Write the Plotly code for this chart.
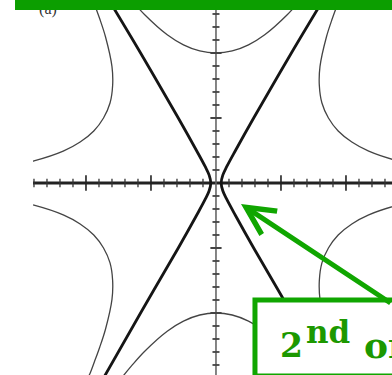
import plotly.graph_objects as go

# curve samples (1 unit = one major tick)
top_x = [-1.65, -1.55, -1.45, -1.3, -1.1, -0.75, -0.5, -0.25, 0, 0.25, 0.5, 0.75, 1.1, 1.3, 1.45, 1.55, 1.65]
top_y = [3.26, 3.125, 2.996, 2.814, 2.592, 2.28, 2.125, 2.031, 2.0, 2.031, 2.125, 2.28, 2.592, 2.814, 2.996, 3.125, 3.26]
bot_y = [-3.26, -3.125, -2.996, -2.814, -2.592, -2.28, -2.125, -2.031, -2.0, -2.031, -2.125, -2.28, -2.592, -2.814, -2.996, -3.125, -3.26]

left_x = [-3.65, -3.48, -3.32, -3.09, -2.80, -2.35, -2.09, -1.88, -1.73, -1.63, -1.59, -1.60, -1.70, -1.79, -1.87, -1.93, -2.0]
right_x = [3.65, 3.48, 3.32, 3.09, 2.80, 2.35, 2.09, 1.88, 1.73, 1.63, 1.59, 1.60, 1.70, 1.79, 1.87, 1.93, 2.0]
upper_y = [0.20, 0.22, 0.24, 0.28, 0.34, 0.49, 0.63, 0.80, 1.00, 1.23, 1.50, 1.79, 2.25, 2.53, 2.75, 2.91, 3.06]
lower_y = [-0.20, -0.22, -0.24, -0.28, -0.34, -0.49, -0.63, -0.80, -1.00, -1.23, -1.50, -1.79, -2.25, -2.53, -2.75, -2.91, -3.06]

# the two heavy branches
branch_y = [3.0, 2.0, 1.0, 0.5, 0.25, 0.12, 0, -0.12, -0.25, -0.5, -1.0, -2.0, -3.0]
branch_lx = [-1.76, -1.16, -0.58, -0.30, -0.165, -0.105, -0.08, -0.105, -0.165, -0.30, -0.58, -1.16, -1.73]
branch_rx = [1.76, 1.16, 0.58, 0.30, 0.165, 0.105, 0.08, 0.105, 0.165, 0.30, 0.58, 1.16, 1.73]

x_ticks_minor = [round(0.2 * k, 1) for k in range(-14, 14) if k % 5]
x_ticks_major = [-2, -1, 1, 2]
y_ticks_minor = [round(0.2 * k, 1) for k in range(-14, 15) if k % 5]
y_ticks_major = [-2, -1, 1, 2]

XR = [-2.815, 2.708]
YR = [-2.954, 2.815]

GREEN = 'rgb(16,166,0)'
TEXT_GREEN = 'rgb(28,152,0)'

thin = dict(color='#444', width=1.3, shape='spline')
thick = dict(color='#151515', width=2.8, shape='spline')

fig = go.Figure()

fig.add_trace(go.Scatter(x=[XR[0], XR[1]], y=[0, 0], mode='lines', line=dict(color='#222', width=3)))
fig.add_trace(go.Scatter(x=[0, 0], y=[YR[0], YR[1]], mode='lines', line=dict(color='#666', width=1.6)))

for cx, cy in [(top_x, top_y), (top_x, bot_y), (left_x, upper_y), (right_x, upper_y),
               (left_x, lower_y), (right_x, lower_y)]:
    fig.add_trace(go.Scatter(x=cx, y=cy, mode='lines', line=thin))

fig.add_trace(go.Scatter(x=branch_lx, y=branch_y, mode='lines', line=thick))
fig.add_trace(go.Scatter(x=branch_rx, y=branch_y, mode='lines', line=thick))

# tick marks on the two axes
fig.add_trace(go.Scatter(x=x_ticks_minor, y=[0] * len(x_ticks_minor), mode='markers',
                         marker=dict(symbol='line-ns-open', size=6, color='#333',
                                     line=dict(color='#333', width=1.3))))
fig.add_trace(go.Scatter(x=x_ticks_major, y=[0] * len(x_ticks_major), mode='markers',
                         marker=dict(symbol='line-ns-open', size=11, color='#222',
                                     line=dict(color='#222', width=1.6))))
fig.add_trace(go.Scatter(x=[0] * len(y_ticks_minor), y=y_ticks_minor, mode='markers',
                         marker=dict(symbol='line-ew-open', size=5, color='#444',
                                     line=dict(color='#444', width=1.8))))
fig.add_trace(go.Scatter(x=[0] * len(y_ticks_major), y=y_ticks_major, mode='markers',
                         marker=dict(symbol='line-ew-open', size=8, color='#444',
                                     line=dict(color='#444', width=2))))

fig.add_trace(go.Scatter(x=[-2.585], y=[2.66], mode='text', text=['(a)'],
                         textfont=dict(family='Liberation Serif', size=16, color='#333')))

# green header bar and callout box
fig.add_shape(type='rect', xref='paper', yref='paper', x0=-0.0501, x1=1.05, y0=0.9733, y1=1.02,
              fillcolor='rgb(12,158,0)', line_width=0, layer='above')
fig.add_shape(type='rect', xref='x', yref='y', x0=0.6, x1=2.85, y0=-1.8, y1=-2.97,
              fillcolor='white', line=dict(color=GREEN, width=5), layer='above')

fig.add_annotation(x=0.385, y=-0.323, xref='x', yref='y', text='', showarrow=True,
                   ax=191, ay=100, arrowhead=5, arrowsize=1.1, arrowwidth=5, arrowcolor=GREEN)

serif = 'DejaVu Serif'
fig.add_annotation(x=(278 - 216) / 65, y=(183 - 345.6) / 65, xref='x', yref='y', text='<b>2</b>',
                   showarrow=False, xanchor='left', yanchor='middle',
                   font=dict(family=serif, size=33, color=TEXT_GREEN))
fig.add_annotation(x=(304 - 216) / 65, y=(183 - 332) / 65, xref='x', yref='y', text='<b>nd</b>',
                   showarrow=False, xanchor='left', yanchor='middle',
                   font=dict(family=serif, size=31, color=TEXT_GREEN))
fig.add_annotation(x=(362 - 216) / 65, y=(183 - 344.6) / 65, xref='x', yref='y', text='<b>order</b>',
                   showarrow=False, xanchor='left', yanchor='middle',
                   font=dict(family=serif, size=36, color=TEXT_GREEN))

fig.update_xaxes(range=XR, visible=False, showgrid=False, zeroline=False)
fig.update_yaxes(range=YR, visible=False, showgrid=False, zeroline=False)
fig.update_layout(
    width=392, height=375,
    margin=dict(l=33, r=0, t=0, b=0),
    plot_bgcolor='white', paper_bgcolor='white',
    showlegend=False,
)

fig.write_html("out.html", config={'displayModeBar': False},
               post_script="document.body.style.margin='0';")
